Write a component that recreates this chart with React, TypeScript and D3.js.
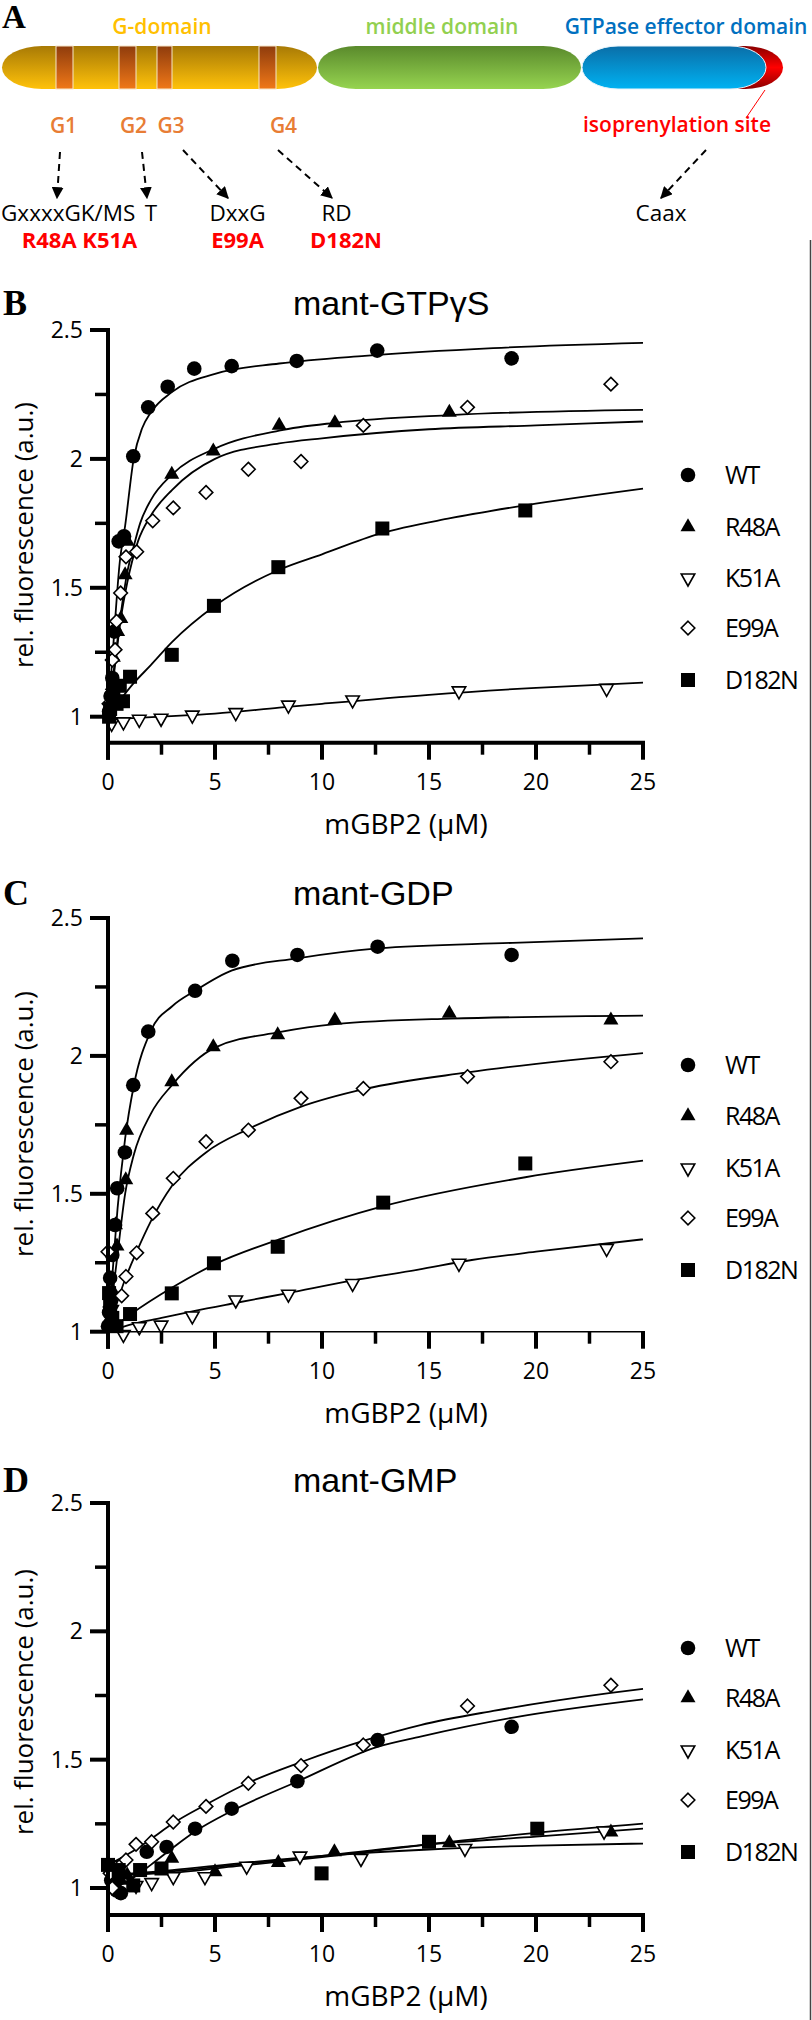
import React from "react";
import * as d3 from "d3";

type P = [number, number];

// ---------- shared ticks / labels ----------
const seriesNames = ["WT", "R48A", "K51A", "E99A", "D182N"];
const seriesKinds = ["circle", "triUp", "triDown", "diamond", "square"];
const xTickValues = [0, 5, 10, 15, 20, 25];
const xMinorTicks = [2.5, 7.5, 12.5, 17.5, 22.5];
const yTickValues = [1, 1.5, 2, 2.5];
const yTickLabels = ["1", "1.5", "2", "2.5"];
const yMinorTicks = [1.25, 1.75, 2.25];

// ---------- Panel B: mant-GTPγS ----------
const gtpWT: P[] = [[0.05, 1.02], [0.12, 1.08], [0.2, 1.15], [0.3, 1.33], [0.5, 1.68], [0.75, 1.7], [1.18, 2.01], [1.88, 2.2], [2.79, 2.28], [4.03, 2.35], [5.78, 2.36], [8.82, 2.38], [12.58, 2.42], [18.86, 2.39]];
const gtpR48A: P[] = [[0.1, 1.05], [0.2, 1.12], [0.25, 1.23], [0.45, 1.33], [0.6, 1.38], [0.8, 1.55], [0.9, 1.68], [2.98, 1.94], [4.92, 2.03], [8.0, 2.13], [10.6, 2.14], [15.95, 2.18]];
const gtpK51A: P[] = [[0.17, 0.974], [0.72, 0.98], [1.46, 0.99], [2.48, 0.994], [3.94, 1.006], [5.97, 1.016], [8.43, 1.045], [11.43, 1.065], [16.4, 1.1], [23.3, 1.11]];
const gtpE99A: P[] = [[0.05, 1.05], [0.2, 1.22], [0.33, 1.26], [0.4, 1.37], [0.59, 1.48], [0.84, 1.62], [1.34, 1.64], [2.09, 1.76], [3.05, 1.81], [4.58, 1.87], [6.56, 1.96], [9.02, 1.99], [11.93, 2.13], [16.8, 2.2], [23.5, 2.29]];
const gtpD182N: P[] = [[0.05, 1.0], [0.1, 1.03], [0.25, 1.08], [0.4, 1.05], [0.55, 1.12], [0.7, 1.06], [1.03, 1.155], [2.98, 1.24], [4.95, 1.43], [7.96, 1.58], [12.82, 1.73], [19.5, 1.8]];

const gtpWTfit: P[] = [[0, 1.0], [0.25, 1.28], [0.55, 1.6], [0.8, 1.74], [1.2, 2.0], [1.6, 2.12], [2, 2.18], [3, 2.26], [5, 2.33], [8, 2.37], [12, 2.4], [18, 2.43], [25, 2.45]];
const gtpR48Afit: P[] = [[0, 1.0], [0.3, 1.2], [0.6, 1.4], [0.9, 1.56], [1.2, 1.66], [1.5, 1.75], [2, 1.84], [3, 1.94], [5, 2.04], [8, 2.11], [10.6, 2.14], [16, 2.17], [25, 2.19]];
const gtpK51Afit: P[] = [[0, 0.99], [2.5, 1.0], [5, 1.012], [8, 1.035], [10, 1.05], [15, 1.085], [20, 1.112], [25, 1.132]];
const gtpE99Afit: P[] = [[0, 1.0], [0.3, 1.18], [0.6, 1.38], [0.9, 1.52], [1.4, 1.68], [2, 1.78], [3, 1.88], [5, 2.0], [8, 2.06], [10, 2.08], [15, 2.115], [20, 2.13], [25, 2.145]];
const gtpD182Nfit: P[] = [[0, 1.0], [1.2, 1.13], [2, 1.2], [3, 1.29], [5, 1.43], [8, 1.57], [10, 1.63], [12.7, 1.71], [16, 1.77], [19.5, 1.82], [25, 1.885]];

// ---------- Panel C: mant-GDP ----------
const gdpWT: P[] = [[0.0, 1.02], [0.05, 1.07], [0.1, 1.195], [0.2, 1.278], [0.33, 1.387], [0.43, 1.52], [0.79, 1.65], [1.18, 1.894], [1.88, 2.088], [4.07, 2.236], [5.81, 2.345], [8.85, 2.366], [12.6, 2.396], [18.86, 2.366]];
const gdpR48A: P[] = [[0.1, 1.05], [0.2, 1.15], [0.35, 1.387], [0.42, 1.31], [0.83, 1.55], [0.87, 1.73], [2.98, 1.906], [4.92, 2.033], [7.93, 2.076], [10.6, 2.13], [15.95, 2.154], [23.5, 2.13]];
const gdpK51A: P[] = [[0.17, 1.08], [0.72, 0.99], [1.46, 1.018], [2.48, 1.024], [3.94, 1.057], [5.97, 1.115], [8.43, 1.136], [11.43, 1.175], [16.4, 1.248], [23.3, 1.302]];
const gdpE99A: P[] = [[0.0, 1.29], [0.1, 1.09], [0.64, 1.13], [0.84, 1.2], [1.34, 1.286], [2.09, 1.429], [3.05, 1.556], [4.58, 1.689], [6.56, 1.731], [9.02, 1.846], [11.93, 1.882], [16.8, 1.925], [23.5, 1.979]];
const gdpD182N: P[] = [[0.05, 1.14], [0.1, 1.1], [0.2, 1.05], [0.4, 1.02], [1.03, 1.064], [2.98, 1.139], [4.95, 1.248], [7.93, 1.308], [12.86, 1.468], [19.5, 1.61]];

const gdpWTfit: P[] = [[0, 1.0], [0.2, 1.2], [0.45, 1.45], [0.8, 1.7], [1.2, 1.89], [2, 2.09], [3, 2.18], [4.07, 2.236], [5.8, 2.31], [8.85, 2.354], [12.6, 2.39], [18.9, 2.41], [25, 2.426]];
const gdpR48Afit: P[] = [[0, 1.0], [0.4, 1.25], [0.8, 1.5], [1.2, 1.64], [2, 1.79], [3, 1.895], [5, 2.03], [8, 2.086], [10.6, 2.115], [16, 2.135], [25, 2.146]];
const gdpK51Afit: P[] = [[0, 1.0], [1, 1.025], [2.5, 1.05], [4, 1.075], [6, 1.105], [8.4, 1.14], [11.4, 1.185], [14.5, 1.225], [17, 1.26], [20, 1.29], [25, 1.335]];
const gdpE99Afit: P[] = [[0, 1.0], [0.4, 1.1], [0.8, 1.19], [1.34, 1.29], [2, 1.4], [3, 1.53], [4.58, 1.65], [6.56, 1.735], [9, 1.815], [12, 1.88], [16.8, 1.94], [25, 2.01]];
const gdpD182Nfit: P[] = [[0, 1.0], [1.1, 1.065], [3, 1.16], [5, 1.245], [8, 1.335], [12.86, 1.455], [19.5, 1.56], [25, 1.62]];

// ---------- Panel D: mant-GMP ----------
const gmpWT: P[] = [[0.15, 1.03], [0.4, 0.99], [0.6, 0.98], [1.81, 1.141], [2.74, 1.16], [4.07, 1.231], [5.78, 1.309], [8.85, 1.416], [12.6, 1.576], [18.86, 1.628]];
const gmpR48A: P[] = [[0.3, 1.05], [0.6, 1.03], [0.9, 1.05], [2.98, 1.115], [5.0, 1.063], [7.96, 1.099], [10.58, 1.141], [15.95, 1.176], [23.5, 1.218]];
const gmpK51A: P[] = [[0.17, 1.089], [1.31, 1.01], [2.04, 1.021], [3.05, 1.044], [4.53, 1.044], [6.48, 1.085], [8.97, 1.124], [11.82, 1.115], [16.68, 1.154], [23.18, 1.222]];
const gmpE99A: P[] = [[0.1, 1.057], [0.2, 1.0], [0.59, 1.089], [0.84, 1.109], [1.31, 1.17], [2.04, 1.18], [3.05, 1.257], [4.58, 1.318], [6.56, 1.408], [9.02, 1.477], [11.93, 1.557], [16.8, 1.709], [23.5, 1.79]];
const gmpD182N: P[] = [[0.0, 1.09], [0.5, 1.07], [1.18, 1.01], [1.5, 1.07], [2.5, 1.076], [9.98, 1.057], [15.0, 1.18], [20.06, 1.231]];

const gmpWTfit: P[] = [[0, 0.99], [1, 1.03], [2, 1.09], [3, 1.155], [4.07, 1.22], [5.78, 1.3], [8.85, 1.415], [12.6, 1.55], [14.6, 1.59], [19, 1.665], [25, 1.735]];
const gmpR48Afit: P[] = [[0, 1.05], [3, 1.065], [6, 1.09], [10, 1.125], [15, 1.17], [20, 1.2], [25, 1.231]];
const gmpK51Afit: P[] = [[0, 1.05], [3, 1.07], [6, 1.095], [10, 1.125], [15, 1.15], [20, 1.165], [25, 1.173]];
const gmpE99Afit: P[] = [[0, 1.09], [1, 1.135], [2, 1.19], [3, 1.25], [4.58, 1.325], [6.56, 1.41], [9, 1.49], [12, 1.575], [14.6, 1.635], [18, 1.69], [23.5, 1.76], [25, 1.776]];
const gmpD182Nfit: P[] = [[0, 1.05], [3, 1.06], [6, 1.085], [10, 1.12], [15, 1.17], [20, 1.215], [25, 1.251]];

// ---------- Panel A texts ----------
const domainNames = ["G-domain", "middle domain", "GTPase effector domain"];
const motifLabels = ["G1", "G2", "G3", "G4"];
const motifSeqs = ["GxxxxGK/MS", "T", "DxxG", "RD", "Caax"];
const mutationLabels = ["R48A K51A", "E99A", "D182N"];

const X0 = 108;
const X1 = 643;
const CAL = "'Open Sans', 'DejaVu Sans', sans-serif";
const ARIAL = "'Liberation Sans', Arial, sans-serif";
const TIMES = "'Liberation Serif', 'Times New Roman', serif";

function Marker({ kind, cx, cy }: { kind: string; cx: number; cy: number }) {
  if (kind === "circle") return <circle cx={cx} cy={cy} r={7.3} fill="#000" />;
  if (kind === "triUp") {
    const w = 15, h = 13;
    return <polygon points={`${cx},${cy - (h * 2) / 3} ${cx + w / 2},${cy + h / 3} ${cx - w / 2},${cy + h / 3}`} fill="#000" />;
  }
  if (kind === "triDown") {
    const w = 13.5, h = 12;
    return <polygon points={`${cx},${cy + (h * 2) / 3} ${cx + w / 2},${cy - h / 3} ${cx - w / 2},${cy - h / 3}`} fill="#fff" stroke="#000" strokeWidth={1.6} />;
  }
  if (kind === "diamond") {
    const r = 6.8;
    return <polygon points={`${cx},${cy - r} ${cx + r},${cy} ${cx},${cy + r} ${cx - r},${cy}`} fill="#fff" stroke="#000" strokeWidth={1.6} />;
  }
  return <rect x={cx - 7} y={cy - 7} width={14} height={14} fill="#000" />;
}

interface PanelCfg {
  letter: string;
  title: string;
  titleBaseline: number;
  y1: number;
  y25: number;
  axisY: number;
  thinXAxis: boolean;
  yTitleCenter: number;
  legendY: number[];
  data: P[][];
  fits: P[][];
}

function Panel({ cfg }: { cfg: PanelCfg }) {
  const x = d3.scaleLinear().domain([0, 25]).range([X0, X1]);
  const y = d3.scaleLinear().domain([1, 2.5]).range([cfg.y1, cfg.y25]);
  const line = d3
    .line<P>()
    .x((d) => x(d[0]))
    .y((d) => y(d[1]))
    .curve(d3.curveMonotoneX);
  const axisW = 4;
  const xw = cfg.thinXAxis ? 1.6 : axisW;
  return (
    <g>
      <text x={3} y={cfg.titleBaseline} fontFamily={TIMES} fontWeight="bold" fontSize={36}>
        {cfg.letter}
      </text>
      <text x={293} y={cfg.titleBaseline} fontFamily={ARIAL} fontSize={34}>
        {cfg.title}
      </text>
      {cfg.fits.map((f, i) => (
        <path key={"f" + i} d={line(f) || ""} fill="none" stroke="#000" strokeWidth={1.8} />
      ))}
      {cfg.data.map((s, i) =>
        s.map((d, j) => <Marker key={`m${i}-${j}`} kind={seriesKinds[i]} cx={x(d[0])} cy={y(d[1])} />)
      )}
      <line x1={X0} x2={X0} y1={y(2.5) - 2} y2={cfg.axisY + 17} stroke="#000" strokeWidth={axisW} />
      {yTickValues.map((v, i) => (
        <g key={"yt" + i}>
          <line x1={X0 - 18} x2={X0} y1={y(v)} y2={y(v)} stroke="#000" strokeWidth={axisW} />
          <text x={83} y={y(v) + 8} textAnchor="end" fontFamily={CAL} fontSize={23}>
            {yTickLabels[i]}
          </text>
        </g>
      ))}
      {yMinorTicks.map((v, i) => (
        <line key={"ym" + i} x1={X0 - 13} x2={X0} y1={y(v)} y2={y(v)} stroke="#000" strokeWidth={3.5} />
      ))}
      <line x1={X0} x2={X1 + 2} y1={cfg.axisY} y2={cfg.axisY} stroke="#000" strokeWidth={xw} />
      {xTickValues.map((v, i) => (
        <g key={"xt" + i}>
          <line x1={x(v)} x2={x(v)} y1={cfg.axisY} y2={cfg.axisY + 17} stroke="#000" strokeWidth={axisW} />
          <text x={x(v)} y={cfg.axisY + 47} textAnchor="middle" fontFamily={CAL} fontSize={23}>
            {v}
          </text>
        </g>
      ))}
      {xMinorTicks.map((v, i) => (
        <line key={"xm" + i} x1={x(v)} x2={x(v)} y1={cfg.axisY} y2={cfg.axisY + 12} stroke="#000" strokeWidth={3.5} />
      ))}
      <text x={406} y={cfg.axisY + 91} textAnchor="middle" fontFamily={CAL} fontSize={28}>
        mGBP2 (μM)
      </text>
      <text
        transform={`translate(33,${cfg.yTitleCenter}) rotate(-90)`}
        textAnchor="middle"
        fontFamily={CAL}
        fontSize={26}
      >
        rel. fluorescence (a.u.)
      </text>
      {seriesNames.map((n, i) => (
        <g key={"lg" + i}>
          <Marker kind={seriesKinds[i]} cx={688} cy={cfg.legendY[i]} />
          <text x={725} y={cfg.legendY[i] + 9} fontFamily={CAL} fontSize={25} letterSpacing={-1.5}>
            {n}
          </text>
        </g>
      ))}
    </g>
  );
}

const panels: PanelCfg[] = [
  {
    letter: "B",
    title: "mant-GTPγS",
    titleBaseline: 315,
    y1: 716.7,
    y25: 330,
    axisY: 742.7,
    thinXAxis: false,
    yTitleCenter: 535,
    legendY: [475, 527, 578, 628, 680],
    data: [gtpWT, gtpR48A, gtpK51A, gtpE99A, gtpD182N],
    fits: [gtpWTfit, gtpR48Afit, gtpK51Afit, gtpE99Afit, gtpD182Nfit],
  },
  {
    letter: "C",
    title: "mant-GDP",
    titleBaseline: 905,
    y1: 1331.7,
    y25: 918,
    axisY: 1331.7,
    thinXAxis: true,
    yTitleCenter: 1124,
    legendY: [1065, 1116, 1168, 1218, 1270],
    data: [gdpWT, gdpR48A, gdpK51A, gdpE99A, gdpD182N],
    fits: [gdpWTfit, gdpR48Afit, gdpK51Afit, gdpE99Afit, gdpD182Nfit],
  },
  {
    letter: "D",
    title: "mant-GMP",
    titleBaseline: 1492,
    y1: 1888,
    y25: 1503,
    axisY: 1915,
    thinXAxis: false,
    yTitleCenter: 1702,
    legendY: [1648, 1698, 1750, 1800, 1852],
    data: [gmpWT, gmpR48A, gmpK51A, gmpE99A, gmpD182N],
    fits: [gmpWTfit, gmpR48Afit, gmpK51Afit, gmpE99Afit, gmpD182Nfit],
  },
];

function PanelA() {
  const top = 46, h = 43;
  const stripes: [number, number][] = [[56, 73], [119, 136], [157, 172], [259, 276]];
  const arrows: [number, number, number, number][] = [
    [60, 152, 57, 198],
    [142, 152, 147, 198],
    [183, 150, 228, 198],
    [278, 150, 332, 198],
    [706, 150, 661, 198],
  ];
  const motifX = [63.5, 133.5, 171, 283.5];
  const seqX = [1, 151, 237.5, 336.5, 661];
  const seqAnchor = ["start", "middle", "middle", "middle", "middle"];
  const mutX = [79.5, 237.5, 346];
  return (
    <g>
      <defs>
        <linearGradient id="gY" x1="0" y1="0" x2="0" y2="1">
          <stop offset="0" stopColor="#a87a05" />
          <stop offset="1" stopColor="#ffc20a" />
        </linearGradient>
        <linearGradient id="gO" x1="0" y1="0" x2="0" y2="1">
          <stop offset="0" stopColor="#8f3c0c" />
          <stop offset="1" stopColor="#f07818" />
        </linearGradient>
        <linearGradient id="gG" x1="0" y1="0" x2="0" y2="1">
          <stop offset="0" stopColor="#5a8a2c" />
          <stop offset="1" stopColor="#96d450" />
        </linearGradient>
        <linearGradient id="gB" x1="0" y1="0" x2="0" y2="1">
          <stop offset="0" stopColor="#0a6ea8" />
          <stop offset="1" stopColor="#00b2f2" />
        </linearGradient>
        <linearGradient id="gR" x1="0" y1="0" x2="0" y2="1">
          <stop offset="0" stopColor="#8a0000" />
          <stop offset="0.5" stopColor="#ff0000" />
          <stop offset="1" stopColor="#8a0000" />
        </linearGradient>
        <marker id="ah" viewBox="0 0 10 10" refX="9" refY="5" markerWidth="6" markerHeight="6" orient="auto">
          <path d="M0,0 L10,5 L0,10 z" fill="#000" />
        </marker>
      </defs>
      <text x={2} y={28} fontFamily={TIMES} fontWeight="bold" fontSize={33}>
        A
      </text>
      <text x={162} y={34} textAnchor="middle" fontFamily={CAL} fontWeight={600} fontSize={21} fill="#ffc000">
        {domainNames[0]}
      </text>
      <text x={442} y={34} textAnchor="middle" fontFamily={CAL} fontWeight={600} fontSize={21} fill="#92d050">
        {domainNames[1]}
      </text>
      <text x={686} y={34} textAnchor="middle" fontFamily={CAL} fontWeight={600} fontSize={21} fill="#0070c0">
        {domainNames[2]}
      </text>
      <rect x={700} y={top} width={83} height={h} rx={38} ry={h / 2} fill="url(#gR)" />
      <rect x={2} y={top} width={315} height={h} rx={40} ry={h / 2} fill="url(#gY)" />
      {stripes.map((s, i) => (
        <rect key={i} x={s[0]} y={top} width={s[1] - s[0]} height={h} fill="url(#gO)" stroke="#f6e6c8" strokeWidth={1} />
      ))}
      <rect x={318} y={top} width={263} height={h} rx={38} ry={h / 2} fill="url(#gG)" />
      <rect x={582} y={top} width={184} height={h} rx={36} ry={h / 2} fill="url(#gB)" stroke="#e8f4fb" strokeWidth={1} />
      {motifLabels.map((m, i) => (
        <text key={m} x={motifX[i]} y={133} textAnchor="middle" fontFamily={CAL} fontWeight={600} fontSize={21} fill="#e87d35">
          {m}
        </text>
      ))}
      <line x1={765} y1={90} x2={746} y2={118} stroke="#ff0000" strokeWidth={1} />
      <text x={677} y={132} textAnchor="middle" fontFamily={CAL} fontWeight={600} fontSize={21} fill="#ff0000">
        isoprenylation site
      </text>
      {arrows.map((a, i) => (
        <line key={"ar" + i} x1={a[0]} y1={a[1]} x2={a[2]} y2={a[3]} stroke="#000" strokeWidth={2} strokeDasharray="7,5" markerEnd="url(#ah)" />
      ))}
      {motifSeqs.map((s, i) => (
        <text key={s} x={seqX[i]} y={221} textAnchor={seqAnchor[i]} fontFamily={CAL} fontSize={22.5} fill="#000">
          {s}
        </text>
      ))}
      {mutationLabels.map((s, i) => (
        <text key={s} x={mutX[i]} y={248} textAnchor="middle" fontFamily={CAL} fontWeight={700} fontSize={22} fill="#ff0000">
          {s}
        </text>
      ))}
    </g>
  );
}

export default function App() {
  return (
    <svg
      width={812}
      height={2020}
      viewBox="0 0 812 2020"
      style={{ position: "absolute", left: 0, top: 0, background: "#fff" }}
    >
      <rect x={0} y={0} width={812} height={2020} fill="#fff" />
      <PanelA />
      {panels.map((p) => (
        <Panel key={p.letter} cfg={p} />
      ))}
      <line x1={810.5} x2={810.5} y1={240} y2={2020} stroke="#444" strokeWidth={1.5} />
    </svg>
  );
}
